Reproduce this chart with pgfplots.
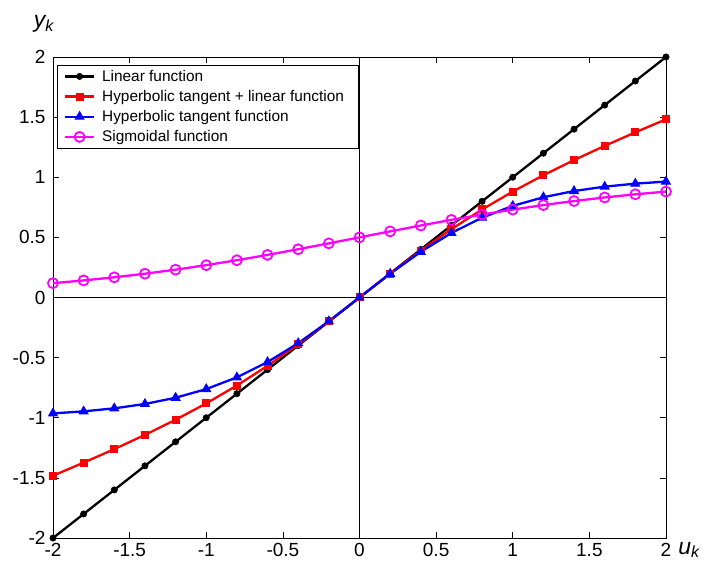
\documentclass[border=0pt]{standalone}
\usepackage{pgfplots}
\pgfplotsset{compat=1.18}
\usetikzlibrary{calc}
\usepackage{fontspec}
\setmainfont{Liberation Sans}
\definecolor{mred}{RGB}{255,0,0}
\definecolor{mblue}{RGB}{0,0,255}
\definecolor{mmag}{RGB}{255,0,255}

\pgfplotstableread{
u lin tl th sg
-2.0 -2.0 -1.4820 -0.9640 0.1192
-1.8 -1.8 -1.3734 -0.9468 0.1419
-1.6 -1.6 -1.2608 -0.9217 0.1680
-1.4 -1.4 -1.1427 -0.8854 0.1978
-1.2 -1.2 -1.0168 -0.8337 0.2315
-1.0 -1.0 -0.8808 -0.7616 0.2689
-0.8 -0.8 -0.7320 -0.6640 0.3100
-0.6 -0.6 -0.5685 -0.5370 0.3543
-0.4 -0.4 -0.3900 -0.3799 0.4013
-0.2 -0.2 -0.1987 -0.1974 0.4502
0.0 0.0 0.0 0.0 0.5
0.2 0.2 0.1987 0.1974 0.5498
0.4 0.4 0.3900 0.3799 0.5987
0.6 0.6 0.5685 0.5370 0.6457
0.8 0.8 0.7320 0.6640 0.6900
1.0 1.0 0.8808 0.7616 0.7311
1.2 1.2 1.0168 0.8337 0.7685
1.4 1.4 1.1427 0.8854 0.8022
1.6 1.6 1.2608 0.9217 0.8320
1.8 1.8 1.3734 0.9468 0.8581
2.0 2.0 1.4820 0.9640 0.8808
}\data

\begin{document}
\begin{tikzpicture}
\begin{axis}[
  name=ax,
  scale only axis,
  width=613pt, height=481pt,
  xmin=-2, xmax=2, ymin=-2, ymax=2,
  xtick={-2,-1.5,...,2}, ytick={-2,-1.5,...,2},
  tick align=inside, major tick length=6pt,
  axis line style={line width=0.8pt},
  tick style={line width=0.6pt, black},
  ticklabel style={font=\fontsize{19}{22}\selectfont},
  /pgf/number format/assume math mode=true,
  xticklabel style={yshift=-2pt},
  yticklabel style={xshift=-4pt},
  clip=false,
  legend cell align=left,
  legend style={at={(rel axis cs:0.007,0.984)}, anchor=north west,
    font=\fontsize{15.4}{18}\selectfont, draw=black, line width=0.8pt,
    inner xsep=6pt, inner ysep=3pt, row sep=3.5pt},
  legend image code/.code={
    \draw[mark repeat=2,mark phase=2] plot coordinates {(0cm,0cm) (0.52cm,0cm) (1.04cm,0cm)};
    \path (1.2cm,0cm);},
]
\draw[line width=0.6pt] (axis cs:-2,0) -- (axis cs:2,0);
\draw[line width=0.6pt] (axis cs:0,-2) -- (axis cs:0,2);
\addplot[black, line width=2.3pt, mark=*, mark size=3.2pt,
  mark options={solid, fill=black, line width=0.5pt}] table[x=u,y=lin] {\data};
\addlegendentry{Linear function}
\addplot[mred, line width=2.3pt, mark=square*, mark size=3.5pt,
  mark options={solid, fill=mred, line width=1pt}] table[x=u,y=tl] {\data};
\addlegendentry{Hyperbolic tangent + linear function\hspace*{6pt}}
\addplot[mblue, line width=2.3pt, mark=triangle*, mark size=5pt,
  mark options={solid, fill=mblue, line width=1pt}] table[x=u,y=th] {\data};
\addlegendentry{Hyperbolic tangent function}
\addplot[mmag, line width=2.3pt, mark=o, mark size=5pt,
  mark options={solid, line width=1.8pt}] table[x=u,y=sg] {\data};
\addlegendentry{Sigmoidal function}
\node at (rel axis cs:0,1) [xshift=-9pt, yshift=33pt] {\fontsize{23}{26}\selectfont\itshape y\textsubscript{k}};
\node at (rel axis cs:1,0) [xshift=23pt, yshift=-12pt] {\fontsize{23}{26}\selectfont\itshape u\textsubscript{k}};
\end{axis}
\pgfresetboundingbox
\path ($(ax.south west)+(-53pt,-26pt)$) rectangle ($(ax.north east)+(42pt,57pt)$);
\end{tikzpicture}
\end{document}
